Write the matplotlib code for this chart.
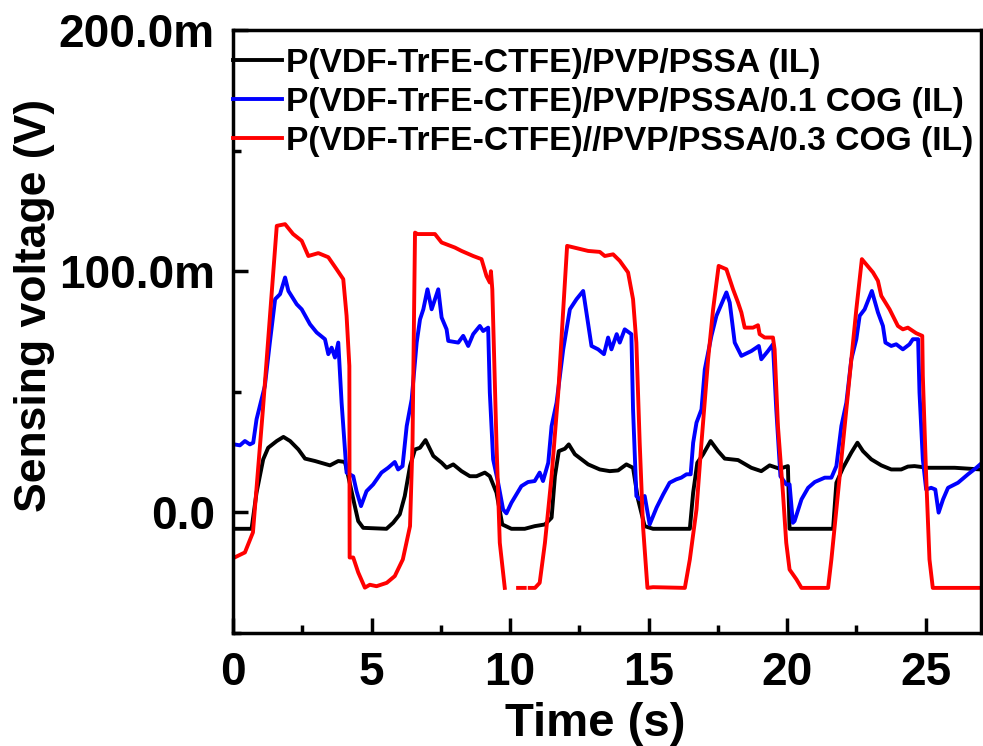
import numpy as np
import matplotlib
matplotlib.use("Agg")
import matplotlib.pyplot as plt

nan = np.nan

# Series 1: P(VDF-TrFE-CTFE)/PVP/PSSA (IL)  -- time (s), voltage (mV)
t_black = [0.07, 0.67, 0.85, 1.09, 1.27, 1.58, 1.82, 2.06, 2.36, 2.6, 2.96, 3.26, 3.5, 3.8, 4.04,
           4.16, 4.37, 4.52, 4.7, 5.54, 5.78, 6.02, 6.2, 6.39, 6.57, 6.75, 6.95, 7.23, 7.53, 7.71,
           7.95, 8.25, 8.55, 8.79, 9.09, 9.27, 9.51, 9.72, 10.05, 10.53, 10.89, 11.26, 11.5, 11.62,
           11.76, 11.98, 12.12, 12.34, 12.82, 13.24, 13.6, 13.9, 14.2, 14.44, 14.62, 14.86, 15.16,
           16.49, 16.61, 16.76, 16.97, 17.24, 17.51, 17.75, 18.23, 18.71, 19.07, 19.37, 19.73,
           20.03, 20.09, 21.66, 21.78, 22.02, 22.32, 22.54, 22.74, 23.04, 23.4, 23.76, 24.12,
           24.36, 24.6, 25.08, 26.05, 27.0]
v_black = [-6.8, -6.8, 8.2, 22.0, 26.8, 29.6, 31.3, 29.6, 26.1, 22.3, 21.3, 20.3, 19.5, 21.3, 20.9,
           15.0, 4.0, -3.6, -6.4, -6.8, -4.3, -0.8, 6.8, 19.2, 26.1, 26.8, 30.0, 23.4, 20.6, 18.5,
           19.9, 17.1, 15.0, 15.0, 16.5, 15.0, 8.2, -5.0, -6.8, -6.8, -5.7, -5.0, -2.2, 15.0,
           25.4, 26.4, 28.2, 24.1, 19.9, 17.8, 17.1, 17.4, 19.9, 18.5, 5.4, -5.7, -6.8,
           -6.8, 8.2, 20.6, 24.1, 29.6, 25.4, 22.3, 21.7, 18.5, 17.1, 19.5, 18.1,
           19.2, -6.8, -6.8, 12.3, 18.5, 24.8, 28.9, 25.4, 22.0, 19.5, 17.8, 17.8,
           19.0, 19.2, 18.5, 18.5, 17.8]

# Series 2: P(VDF-TrFE-CTFE)/PVP/PSSA/0.1 COG (IL)
t_blue = [0.04, 0.25, 0.43, 0.61, 0.73, 0.85, 1.03, 1.15, 1.33, 1.52, 1.7, 1.88, 2.0, 2.3, 2.48,
          2.78, 3.02, 3.32, 3.44, 3.56, 3.68, 3.8, 3.92, 4.1, 4.34, 4.46, 4.62, 4.82, 5.06, 5.36,
          5.6, 5.84, 5.96, 6.12, 6.27, 6.45, 6.63, 6.75, 6.87, 7.02, 7.17, 7.41, 7.53, 7.71, 7.77,
          8.13, 8.31, 8.49, 8.67, 8.91, 9.03, 9.21, 9.27, 9.39, 9.57, 9.75, 9.87, 10.05, 10.41,
          10.65, 10.89, 11.07, 11.19, 11.38, 11.5, 11.68, 11.92, 12.16, 12.4, 12.64, 12.94, 13.18,
          13.39, 13.54, 13.66, 13.85, 13.96, 14.14, 14.38, 14.44, 14.56, 14.68, 14.86, 15.04,
          15.29, 15.53, 15.76, 16.0, 16.18, 16.37, 16.52, 16.61, 16.73, 16.91, 17.03, 17.27,
          17.45, 17.63, 17.81, 17.93, 18.11, 18.35, 18.71, 18.98, 19.07, 19.31, 19.49, 19.61,
          19.76, 19.97, 20.09, 20.21, 20.27, 20.52, 20.76, 21.0, 21.36, 21.6, 21.78, 21.96,
          22.14, 22.32, 22.5, 22.62, 22.8, 23.06, 23.28, 23.46, 23.55, 23.76, 23.94, 24.18,
          24.42, 24.54, 24.73, 24.78, 24.9, 25.02, 25.2, 25.35, 25.47, 25.63, 25.81, 26.17,
          26.53, 26.83, 27.0]
v_blue = [28.2, 27.8, 29.6, 28.2, 28.9, 38.6, 46.9, 52.4, 70.4, 88.4, 90.5, 97.4, 91.8, 86.3, 84.2,
          78.0, 74.6, 71.8, 65.6, 68.3, 64.2, 70.4, 45.5, 16.5, 15.0, 8.8, 2.6, 8.8, 11.6, 16.5,
          18.5, 20.9, 17.8, 19.2, 35.8, 46.9, 70.4, 80.0, 84.2, 92.5, 84.2, 92.5, 80.8, 75.9, 71.1,
          70.4, 73.2, 69.0, 73.9, 77.3, 75.2, 76.6, 49.7, 22.0, 12.3, 1.2, -0.4, 4.0, 10.9,
          12.6, 13.0, 16.5, 13.0, 20.6, 35.8, 45.5, 67.6, 84.2, 88.4, 91.8, 69.0, 67.6,
          65.6, 72.5, 67.6, 73.9, 70.4, 75.9, 73.9, 42.7, 6.8, 5.4, 6.8, -5.0,
          2.0, 7.5, 12.3, 13.7, 14.4, 15.8, 15.8, 28.9, 37.2, 42.7, 59.3, 73.2,
          81.5, 86.3, 91.2, 87.0, 70.4, 64.9, 66.9, 69.0, 63.5, 66.9, 69.7, 42.7,
          15.0, 11.6, 11.6, -4.3, -3.6, 5.4, 10.2, 12.6, 14.4, 14.4, 19.2, 35.8,
          45.5, 63.5, 71.8, 81.5, 84.2, 91.8, 82.9, 77.3, 70.4, 69.0, 69.7, 67.6,
          69.7, 71.8, 71.8, 49.7, 22.0, 9.5, 10.2, 9.5, -0.1, 5.4, 10.2, 12.3,
          15.8, 18.5, 20.2]

# Series 3: P(VDF-TrFE-CTFE)//PVP/PSSA/0.3 COG (IL)
t_red = [0.0, 0.43, 0.72, 1.08, 1.58, 1.88, 2.17, 2.48, 2.72, 3.08, 3.44, 3.74, 3.98, 4.1, 4.2,
         4.21, 4.34, 4.52, 4.76, 4.94, 5.18, 5.55, 5.84, 6.13, 6.39, 6.48, 6.57, 6.66, 7.29, 7.53,
         8.01, 8.25, 8.67, 8.97, 9.15, 9.27, 9.31, 9.36, 9.51, 9.63, 9.81, 9.95, 10.29, 10.53,
         10.6, 10.71, 10.9, 11.07, 11.26, 11.5, 11.74, 11.92, 12.06, 12.46, 12.82, 13.24, 13.42,
         13.72, 13.96, 14.26, 14.44, 14.56, 14.68, 14.8, 14.96, 15.16, 16.31, 16.49, 16.73,
         16.91, 17.15, 17.33, 17.53, 17.81, 18.05, 18.23, 18.35, 18.47, 18.77, 18.95, 19.01,
         19.19, 19.49, 19.55, 19.67, 19.85, 19.97, 20.09, 20.34, 20.52, 21.48, 21.6, 21.84,
         22.08, 22.32, 22.5, 22.7, 23.1, 23.28, 23.4, 23.7, 24.0, 24.18, 24.36, 24.66, 24.88,
         24.9, 25.02, 25.14, 25.26, 27.0]
v_red = [-19.0, -16.6, -8.3, 42.7, 118.8, 119.5, 115.4, 112.6, 106.3, 107.5, 105.8, 100.8, 96.7, 81.5, 60.7,
         -18.7, -18.7, -24.9, -31.2, -30.0, -30.6, -29.2, -26.4, -19.5, -5.7, 29.0, 116.0, 115.4, 115.4, 111.9,
         109.8, 108.4, 106.3, 105.0, 98.0, 95.3, 100.0, 92.5, 28.9, -12.6, -31.3, nan, -31.3, -31.3,
         nan, -31.3, -31.3, -29.2, -12.6, 15.0, 49.6, 84.0, 110.5, 109.4, 108.4, 108.0, 106.3,
         107.0, 104.3, 99.5, 88.4, 70.4, 28.9, -5.7, -31.3, -31.0, -31.3, -19.5, 1.2,
         28.9, 63.5, 84.2, 102.2, 100.8, 92.5, 87.0, 82.9, 76.6, 76.6, 77.6, 73.9,
         72.5, 72.5, 67.6, 35.8, 8.2, -12.6, -23.7, -27.8, -31.3, -31.3, -19.5, 8.2,
         35.8, 63.5, 84.2, 105.0, 99.5, 96.0, 89.8, 84.2, 77.3, 75.9, 76.6, 74.3, 73.2,
         56.6, 15.0, -19.5, -31.3, -31.3]

labels = ["P(VDF-TrFE-CTFE)/PVP/PSSA (IL)",
          "P(VDF-TrFE-CTFE)/PVP/PSSA/0.1 COG (IL)",
          "P(VDF-TrFE-CTFE)//PVP/PSSA/0.3 COG (IL)"]
colors = ["#000000", "#0000ff", "#ff0000"]

xticks = [0, 5, 10, 15, 20, 25]
yticks = [0.0, 0.1, 0.2]
ytick_labels = ["0.0", "100.0m", "200.0m"]

plt.rcParams['font.family'] = ['Liberation Sans', 'DejaVu Sans']
plt.rcParams['font.weight'] = 'bold'

fig = plt.figure(figsize=(9.83, 7.46), dpi=100)
ax = fig.add_axes([233/983, 1 - 633/746, (981-233)/983, (633-30)/746])

for t, v, c, lab in [(t_black, v_black, colors[0], labels[0]),
                     (t_blue, v_blue, colors[1], labels[1]),
                     (t_red, v_red, colors[2], labels[2])]:
    ax.plot(t, np.array(v) / 1000.0, color=c, lw=2.8, label=lab, solid_joinstyle='round')

ax.set_xlim(0, 27)
ax.set_ylim(-0.05, 0.2)
ax.set_xticks(xticks)
ax.set_xticks([2.5, 7.5, 12.5, 17.5, 22.5], minor=True)
ax.set_yticks(yticks)
ax.set_yticklabels(ytick_labels)
ax.set_yticks([-0.05, 0.05, 0.15], minor=True)

for s in ax.spines.values():
    s.set_linewidth(2.5)

ax.tick_params(axis='both', which='major', direction='in', length=11, width=2.5,
               labelsize=33, top=False, right=False)
ax.tick_params(axis='both', which='minor', direction='in', length=6, width=2.5,
               top=False, right=False)
ax.tick_params(axis='y', which='major', pad=13)
ax.tick_params(axis='x', which='major', pad=13)
for lbl in ax.get_xticklabels() + ax.get_yticklabels():
    lbl.set_fontweight('bold')

ax.set_xlabel("Time (s)", fontsize=34, fontweight='bold')
ax.xaxis.set_label_coords(0.484, -0.115)
ax.set_ylabel("Sensing voltage (V)", fontsize=32, fontweight='bold')
ax.yaxis.set_label_coords(-0.238, 0.544)

leg = ax.legend(loc='upper left', bbox_to_anchor=(0, 1 - 18/603), frameon=False,
                prop={'size': 24.2, 'weight': 'bold'}, handlelength=1.45,
                handletextpad=0.12, labelspacing=0.24, borderaxespad=0, borderpad=0)

fig.savefig("out.png", dpi=100)
